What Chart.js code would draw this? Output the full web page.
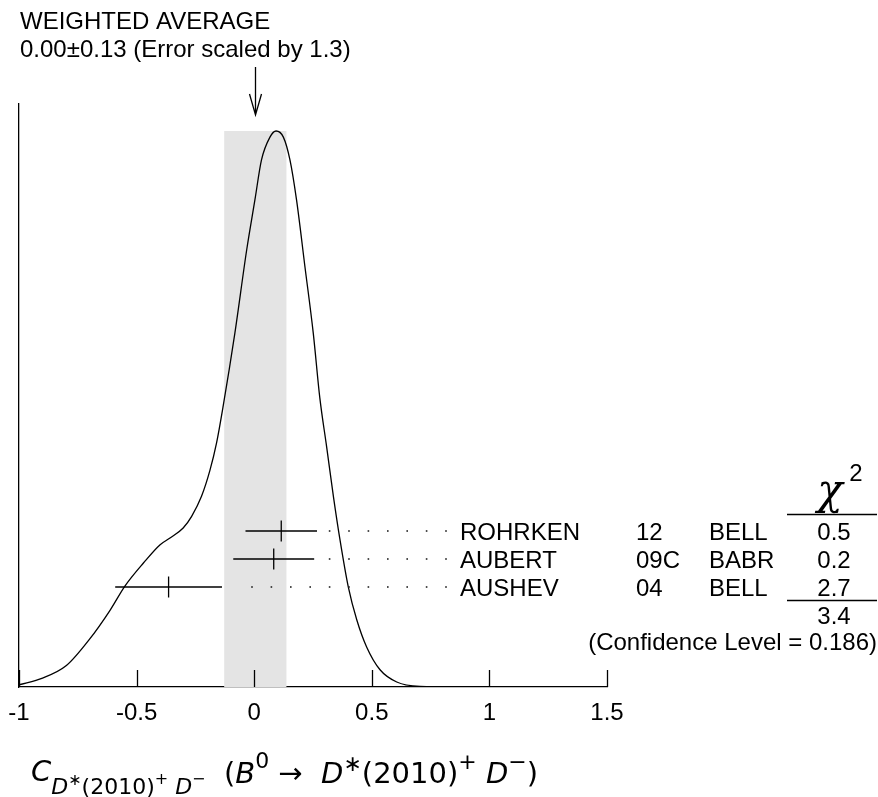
<!DOCTYPE html>
<html>
<head>
<meta charset="utf-8">
<script src="https://cdn.jsdelivr.net/npm/chart.js@4.4.1/dist/chart.umd.min.js"></script>
<style>
  html, body { margin: 0; padding: 0; background: #fff; }
  canvas { display: block; }
</style>
</head>
<body>
<canvas id="ideogram" width="878" height="797"></canvas>
<script>
// Messungen (von oben nach unten)
const names = ["ROHRKEN", "AUBERT", "AUSHEV"];
const years = ["12", "09C", "04"];
const experiments = ["BELL", "BABR", "BELL"];
const values = [0.115, 0.083, -0.364];
const errors = [0.152, 0.172, 0.227];
const chi2 = ["0.5", "0.2", "2.7"];
const chi2Total = "3.4";
const confLevel = "0.186";

// gewichteter Mittelwert (Band)
const avgValue = 0.005;
const avgError = 0.133;
const avgLabel = "0.00\u00b10.13 (Error scaled by 1.3)";

// Ideogramm-Kurve (Maximum = 1)
const curveX = [-1.000, -0.900, -0.800, -0.700, -0.613, -0.549, -0.471, -0.400, -0.358, -0.302,
  -0.266, -0.224, -0.188, -0.160, -0.132, -0.082, -0.032, 0.003, 0.031, 0.067,
  0.093, 0.124, 0.152, 0.180, 0.216, 0.251, 0.279, 0.308, 0.337, 0.365,
  0.400, 0.436, 0.478, 0.535, 0.606, 0.705, 0.850, 1.500];
const curveY = [0.004, 0.016, 0.038, 0.086, 0.138, 0.182, 0.223, 0.256, 0.268, 0.286,
  0.307, 0.343, 0.390, 0.439, 0.505, 0.637, 0.786, 0.876, 0.948, 0.989,
  1.000, 0.989, 0.948, 0.876, 0.755, 0.637, 0.520, 0.432, 0.342, 0.264,
  0.180, 0.121, 0.072, 0.031, 0.009, 0.001, 0.000, 0.000];

const xTicks = [-1, -0.5, 0, 0.5, 1, 1.5];

const FONT = '"Liberation Sans", Arial, Helvetica, sans-serif';

function buildDatasets() {
  const ds = [];
  // Kurve
  ds.push({
    data: curveX.map((x, i) => ({ x: x, y: curveY[i] })),
    showLine: true,
    borderColor: "#000",
    borderWidth: 1.3,
    pointRadius: 0,
    cubicInterpolationMode: "monotone",
    order: 1
  });
  // Fehlerbalken + Mittelstrich
  values.forEach((v, i) => {
    const row = names.length - 1 - i;
    ds.push({
      data: [{ x: v - errors[i], y: row }, { x: v + errors[i], y: row }],
      yAxisID: "yRows",
      showLine: true,
      borderColor: "#000",
      borderWidth: 1.3,
      pointRadius: 0,
      order: 0
    });
    ds.push({
      data: [{ x: v, y: row }],
      yAxisID: "yRows",
      pointStyle: "line",
      rotation: 90,
      pointRadius: 10.5,
      borderColor: "#000",
      borderWidth: 1.3,
      order: 0
    });
  });
  // graues Band
  ds.push({
    data: [{ x: avgValue - avgError, y: 1 }, { x: avgValue + avgError, y: 1 }],
    showLine: true,
    fill: "origin",
    backgroundColor: "#e4e4e4",
    borderWidth: 0,
    borderColor: "rgba(0,0,0,0)",
    pointRadius: 0,
    order: 10
  });
  return ds;
}

// alles was kein Datensatz ist
const decorations = {
  id: "decorations",
  afterDraw(chart) {
    const ctx = chart.ctx;
    const xs = chart.scales.x;
    const rs = chart.scales.yRows;
    const area = chart.chartArea;
    ctx.save();
    ctx.fillStyle = "#000";
    ctx.strokeStyle = "#000";
    ctx.lineWidth = 1.3;

    // Striche nach innen
    xTicks.forEach(t => {
      const px = Math.round(xs.getPixelForValue(t)) + 0.5;
      ctx.beginPath();
      ctx.moveTo(px, area.bottom);
      ctx.lineTo(px, area.bottom - 17);
      ctx.stroke();
    });

    // Kopf
    ctx.font = "24px " + FONT;
    ctx.textAlign = "left";
    ctx.textBaseline = "alphabetic";
    ctx.fillText("WEIGHTED AVERAGE", 20, 29);
    ctx.fillText(avgLabel, 20, 57);

    // Pfeil
    const ax = Math.round(xs.getPixelForValue(avgValue)) + 0.5;
    ctx.beginPath();
    ctx.moveTo(ax, 67);
    ctx.lineTo(ax, 115);
    ctx.moveTo(ax - 6, 94);
    ctx.lineTo(ax, 115);
    ctx.lineTo(ax + 6, 94);
    ctx.stroke();

    // Tabelle
    const nameX = 460, yearX = 636, expX = 709, chiX = 834;
    names.forEach((n, i) => {
      const row = names.length - 1 - i;
      const py = rs.getPixelForValue(row);
      const barEnd = xs.getPixelForValue(values[i] + errors[i]);
      // Punkte
      ctx.fillStyle = "#222";
      for (let dx = nameX - 14; dx > barEnd + 12; dx -= 19.4) {
        ctx.fillRect(dx - 0.8, py - 0.8, 1.6, 1.6);
      }
      ctx.fillStyle = "#000";
      ctx.textAlign = "left";
      ctx.fillText(n, nameX, py + 9);
      ctx.fillText(years[i], yearX, py + 9);
      ctx.fillText(experiments[i], expX, py + 9);
      ctx.textAlign = "center";
      ctx.fillText(chi2[i], chiX, py + 9);
    });
    const topRow = rs.getPixelForValue(names.length - 1);
    const lastRow = rs.getPixelForValue(0);
    ctx.lineWidth = 1.3;
    ctx.beginPath();
    ctx.moveTo(787, Math.round(topRow - 17) + 0.5);
    ctx.lineTo(877, Math.round(topRow - 17) + 0.5);
    ctx.moveTo(787, Math.round(lastRow + 13) + 0.5);
    ctx.lineTo(877, Math.round(lastRow + 13) + 0.5);
    ctx.stroke();
    ctx.textAlign = "center";
    ctx.fillText(chi2Total, chiX, lastRow + 37);
    ctx.textAlign = "right";
    ctx.fillText("(Confidence Level = " + confLevel + ")", 877, lastRow + 63);

    // chi^2
    ctx.textAlign = "center";
    ctx.font = 'italic 42px "DejaVu Serif", serif';
    ctx.fillText("\u03c7", 830, topRow - 27);
    ctx.font = "24px " + FONT;
    ctx.fillText("2", 856, topRow - 50);

    // Achsentitel
    drawFormula(ctx, 31, 781);
    ctx.restore();
  }
};

function drawFormula(ctx, x0, base) {
  const big = 29, small = 22, tiny = 16;
  const runs = [
    ["C", "italic", big, 0],
    ["D", "italic", small, 13],
    ["\u2217", "", tiny, 4],
    ["(2010)", "", small, 13],
    ["+", "", tiny, 3],
    [" ", "", small, 13],
    ["D", "italic", small, 13],
    ["\u2212", "", tiny, 3],
    ["  (", "", big, 2],
    ["B", "italic", big, 2],
    ["0", "", small, -13],
    [" \u2192  ", "", big, 2],
    ["D", "italic", big, 2],
    ["\u2217", "", small, -10],
    ["(2010)", "", big, 2],
    ["+", "", small, -12],
    [" ", "", big, 2],
    ["D", "italic", big, 2],
    ["\u2212", "", small, -12],
    [")", "", big, 2]
  ];
  let x = x0;
  ctx.textAlign = "left";
  runs.forEach(r => {
    ctx.font = (r[1] ? r[1] + " " : "") + r[2] + 'px "DejaVu Sans", sans-serif';
    ctx.fillText(r[0], x, base + r[3]);
    x += ctx.measureText(r[0]).width;
  });
}

new Chart(document.getElementById("ideogram").getContext("2d"), {
  type: "scatter",
  data: { datasets: buildDatasets() },
  options: {
    responsive: false,
    animation: false,
    devicePixelRatio: 1,
    layout: { padding: { left: 19, top: 104, right: 271, bottom: 0 } },
    plugins: {
      legend: { display: false },
      tooltip: { enabled: false },
      title: { display: false }
    },
    scales: {
      x: {
        type: "linear",
        min: -1,
        max: 1.5,
        afterBuildTicks: scale => { scale.ticks = xTicks.map(v => ({ value: v })); },
        afterFit: scale => {
          scale.height = 110;
          scale.paddingLeft = 0;
          scale.paddingRight = 0;
        },
        grid: { drawOnChartArea: false, drawTicks: false },
        border: { color: "#000", width: 1.3 },
        ticks: {
          color: "#000",
          font: { family: FONT, size: 24 },
          padding: 12,
          maxRotation: 0,
          autoSkip: false,
          callback: v => String(v)
        }
      },
      y: {
        min: 0,
        max: 583 / 556,
        afterFit: scale => { scale.width = 0; },
        ticks: { display: false },
        grid: { drawOnChartArea: false, drawTicks: false },
        border: { color: "#000", width: 1.3 }
      },
      yRows: {
        type: "linear",
        axis: "y",
        display: false,
        min: -100 / 28,
        max: -100 / 28 + 583 / 28
      }
    }
  },
  plugins: [decorations]
});
</script>
</body>
</html>
